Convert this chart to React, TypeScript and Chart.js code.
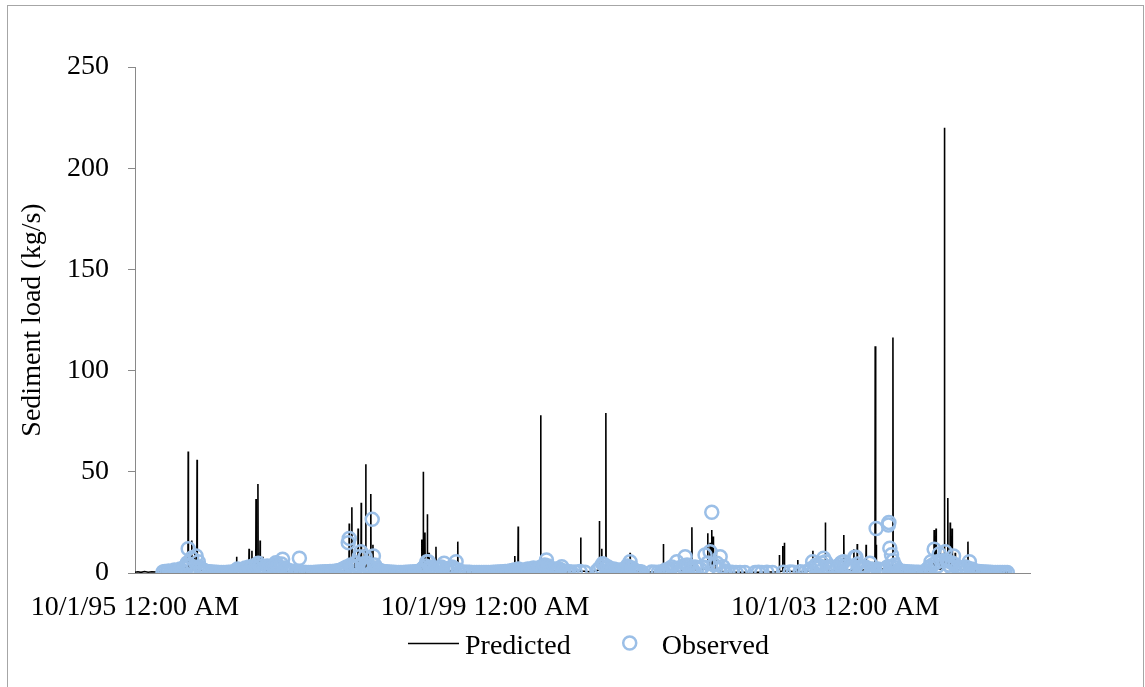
import React, { useEffect, useRef } from 'react';
import { Chart, registerables } from 'chart.js';

Chart.register(...registerables);

const FONT = "'Liberation Serif', 'Times New Roman', serif";

// x axis: days since 10/1/1995 12:00 AM
const xTickDays = [0, 1461, 2922];
const xTickLabels = ['10/1/95 12:00 AM', '10/1/99 12:00 AM', '10/1/03 12:00 AM'];
const xMinDay = 0;
const xMaxDay = 3735;
const yMin = 0;
const yMax = 250;
const yStep = 50;

const seriesNames = ['Predicted', 'Observed'];

// Predicted sediment load (kg/s): [day, load]
const predWY96: [number, number][] = [
  [0, 0.4], [12, 0.6], [25, 0.3], [40, 0.7], [55, 0.4], [70, 0.6], [90, 0.5], [110, 0.8], [130, 0.6],
  [150, 1.0], [170, 0.8], [190, 1.5], [205, 2.0], [215, 3.0], [221, 2.0], [222, 60], [223, 3.0],
  [230, 2.0], [236, 2.0], [237, 16], [238, 2.5], [244, 3.0], [245, 8.0], [246, 2.5], [249, 2.0],
  [250, 10], [251, 2.0], [258, 2.0], [259, 56], [260, 2.5], [270, 1.5], [290, 1.0], [320, 0.6], [350, 0.5],
];
const predWY97: [number, number][] = [
  [380, 0.4], [410, 0.5], [423, 1.0], [424, 8], [425, 1.0], [441, 1.5], [442, 5], [443, 1.0],
  [475, 1.5], [476, 12], [477, 1.5], [487, 1.5], [488, 11], [489, 1.5], [504, 2.0], [505, 36.5],
  [506, 3.0], [512, 2.0], [513, 44], [514, 3.0], [521, 2.0], [522, 16], [523, 2.0], [533, 1.5],
  [534, 8], [535, 1.5], [560, 1.2], [600, 1.0], [640, 0.8], [680, 0.5], [720, 0.4],
];
const predWY98: [number, number][] = [
  [760, 0.4], [800, 0.5], [840, 0.6], [870, 1.0], [893, 2.0], [894, 24.5], [895, 2.0], [904, 2.0],
  [905, 32.5], [906, 3.0], [917, 2.0], [918, 12], [919, 2.0], [930, 2.0], [931, 22], [932, 2.0],
  [943, 3.0], [944, 34.7], [945, 3.0], [956, 2.0], [957, 12], [958, 2.0], [962, 3.0], [963, 53.7],
  [964, 3.0], [972, 2.0], [973, 10], [974, 2.0], [983, 3.0], [984, 39], [985, 3.0], [992, 2.0],
  [993, 14], [994, 2.0], [1020, 1.0], [1060, 0.6],
];
const predWY99: [number, number][] = [
  [1100, 0.4], [1150, 0.5], [1190, 1.0], [1196, 2.0], [1197, 16.6], [1198, 2.0], [1202, 3.0],
  [1203, 50], [1204, 3.0], [1209, 2.0], [1210, 20], [1211, 2.0], [1219, 3.0], [1220, 29], [1221, 3.0],
  [1226, 2.0], [1227, 10], [1228, 2.0], [1255, 1.5], [1256, 13], [1257, 1.5], [1300, 1.0], [1346, 1.0],
  [1347, 15.5], [1348, 1.0], [1380, 0.6], [1420, 0.5], [1455, 0.4],
];
const predWY00: [number, number][] = [
  [1500, 0.5], [1550, 0.6], [1584, 1.0], [1585, 8.4], [1586, 1.0], [1598, 1.5], [1599, 23], [1600, 1.5],
  [1640, 1.0], [1692, 1.5], [1693, 78], [1694, 2.0], [1740, 1.0], [1800, 0.6], [1859, 1.0], [1860, 17.6],
  [1861, 1.0],
];
const predWY01: [number, number][] = [
  [1900, 0.6], [1937, 1.5], [1938, 25.7], [1939, 2.0], [1947, 2.0], [1948, 12], [1949, 2.0], [1964, 2.0],
  [1965, 79], [1966, 2.0], [2010, 1.0], [2065, 1.0], [2066, 10], [2067, 1.0], [2120, 0.6], [2170, 0.5],
];
const predWY02: [number, number][] = [
  [2204, 0.8], [2205, 14.3], [2206, 0.8], [2260, 1.0], [2323, 1.5], [2324, 22.6], [2325, 1.5],
  [2389, 2.0], [2390, 19.6], [2391, 2.0], [2399, 2.0], [2400, 15], [2401, 2.0], [2406, 2.0],
  [2407, 21.2], [2408, 2.0], [2412, 2.0], [2413, 18], [2414, 2.0], [2424, 1.5], [2425, 10],
  [2426, 1.0], [2480, 0.5], [2540, 0.4],
];
const predWY03: [number, number][] = [
  [2600, 0.4], [2688, 0.6], [2689, 8.9], [2690, 0.6], [2702, 1.0], [2703, 13.3], [2704, 1.0],
  [2709, 1.0], [2710, 15], [2711, 1.0], [2765, 0.6], [2766, 6.4], [2767, 0.6], [2828, 1.0],
  [2829, 11], [2830, 1.0], [2880, 1.5], [2881, 24.9], [2882, 1.5], [2910, 1.0],
];
const predWY04: [number, number][] = [
  [2957, 1.5], [2958, 18.8], [2959, 1.5], [2999, 1.5], [3000, 11.7], [3001, 1.5], [3013, 1.5],
  [3014, 14.3], [3015, 1.5], [3050, 1.5], [3051, 14], [3052, 1.5], [3088, 2.0], [3089, 112],
  [3090, 2.0], [3092, 2.0], [3093, 14], [3094, 2.0], [3162, 2.0], [3163, 116.4], [3164, 2.0],
  [3200, 1.0], [3260, 0.5],
];
const predWY05: [number, number][] = [
  [3300, 0.6], [3334, 2.0], [3335, 21.2], [3336, 2.0], [3342, 2.0], [3343, 22], [3344, 2.0],
  [3359, 2.0], [3360, 12], [3361, 2.0], [3377, 3.0], [3378, 220], [3379, 3.0], [3391, 3.0],
  [3392, 37], [3393, 3.0], [3401, 2.0], [3402, 25], [3403, 2.0], [3409, 2.0], [3410, 22],
  [3411, 2.0], [3422, 1.5], [3423, 10], [3424, 1.5], [3475, 1.5], [3476, 15.5], [3477, 1.5],
  [3550, 0.6], [3652, 0.4],
];

// Observed sediment load (kg/s): [day, load]
const obsWY96: [number, number][] = [
  [117, 0.5], [125, 0.8], [133, 0.4], [141, 1.0], [149, 0.6], [157, 0.9], [165, 1.5], [173, 0.7],
  [181, 1.2], [189, 2.0], [197, 1.0], [205, 2.5], [212, 3.5], [218, 5.0], [222, 12], [228, 4.0],
  [237, 7.4], [245, 3.0], [255, 8.4], [264, 5.6], [270, 3.0], [276, 2.0], [284, 1.5], [292, 1.0],
  [300, 0.8], [310, 0.6], [320, 0.5], [330, 0.4], [340, 0.4], [350, 0.3], [360, 0.3],
];
const obsWY97: [number, number][] = [
  [370, 0.3], [380, 0.3], [390, 0.4], [400, 0.4], [410, 0.5], [420, 1.0], [428, 2.0], [436, 1.2],
  [444, 0.8], [452, 1.5], [460, 2.5], [468, 1.8], [476, 3.0], [484, 2.2], [492, 3.5], [500, 2.5],
  [507, 4.0], [514, 4.8], [521, 3.0], [528, 2.0], [536, 1.5], [544, 2.5], [552, 3.5], [560, 2.8],
  [568, 2.0], [576, 3.2], [583, 4.0], [588, 5.1], [596, 3.0], [604, 2.2], [611, 4.5], [616, 6.8],
  [624, 2.5], [632, 1.8], [640, 1.2], [650, 1.0], [660, 0.8], [670, 0.6], [680, 0.5], [686, 7.3],
  [694, 0.4], [704, 0.4], [714, 0.3], [724, 0.3],
];
const obsWY98: [number, number][] = [
  [734, 0.3], [744, 0.3], [754, 0.4], [764, 0.4], [774, 0.5], [784, 0.5], [794, 0.6], [804, 0.6],
  [814, 0.7], [824, 0.8], [834, 0.9], [844, 1.0], [852, 1.2], [860, 1.5], [868, 2.0], [876, 2.5],
  [884, 3.0], [890, 15], [894, 17.1], [900, 4.0], [907, 3.0], [914, 2.5], [921, 5.0], [928, 3.5],
  [936, 8], [942, 10.5], [948, 4.5], [954, 3.0], [960, 8], [966, 5.0], [972, 3.5], [978, 2.5],
  [984, 3.0], [990, 26.5], [995, 8.4], [1000, 4.0], [1006, 2.5], [1013, 1.8], [1020, 1.2],
  [1028, 1.0], [1036, 0.8], [1044, 0.6], [1052, 0.5], [1060, 0.5], [1070, 0.4], [1080, 0.4], [1090, 0.3],
];
const obsWY99: [number, number][] = [
  [1100, 0.3], [1110, 0.3], [1120, 0.3], [1130, 0.4], [1140, 0.4], [1150, 0.5], [1160, 0.5],
  [1170, 0.6], [1180, 0.8], [1188, 1.0], [1196, 1.5], [1204, 2.5], [1211, 3.5], [1218, 5.6],
  [1224, 5.6], [1231, 3.0], [1238, 2.0], [1246, 1.5], [1254, 2.5], [1262, 1.8], [1270, 2.2],
  [1278, 3.0], [1284, 2.5], [1290, 4.8], [1298, 2.0], [1306, 1.5], [1314, 2.2], [1322, 3.0],
  [1330, 2.5], [1340, 5.6], [1348, 1.5], [1372, 0.5], [1386, 0.4], [1396, 0.4], [1406, 0.3],
  [1416, 0.3], [1426, 0.3], [1436, 0.3], [1446, 0.3], [1456, 0.3],
];
const obsWY00: [number, number][] = [
  [1465, 0.3], [1475, 0.3], [1485, 0.3], [1495, 0.4], [1505, 0.4], [1515, 0.5], [1525, 0.5],
  [1535, 0.6], [1545, 0.7], [1555, 0.8], [1565, 1.0], [1575, 1.2], [1583, 1.5], [1591, 1.2],
  [1599, 2.0], [1607, 1.5], [1615, 1.0], [1623, 1.5], [1631, 1.2], [1639, 2.0], [1647, 1.8],
  [1655, 1.5], [1663, 2.5], [1671, 2.0], [1679, 1.5], [1687, 2.5], [1695, 3.0], [1703, 2.5],
  [1710, 4.0], [1717, 6.4], [1724, 3.5], [1731, 2.5], [1739, 2.0], [1747, 1.5], [1755, 2.0],
  [1763, 1.5], [1771, 2.0], [1781, 3.1], [1790, 1.0], [1800, 0.8], [1810, 0.6], [1820, 0.5],
];
const obsWY01: [number, number][] = [
  [1837, 0.5], [1857, 0.8], [1878, 0.4], [1928, 1.0], [1936, 2.0], [1944, 3.0], [1952, 4.6],
  [1959, 4.0], [1966, 2.5], [1974, 3.0], [1982, 2.0], [1990, 1.5], [1998, 2.0], [2006, 1.5],
  [2014, 1.2], [2022, 1.5], [2030, 1.0], [2038, 1.5], [2046, 2.0], [2054, 3.5], [2060, 3.0],
  [2066, 5.6], [2074, 2.5], [2082, 1.5], [2090, 1.0], [2098, 0.8], [2106, 0.6], [2114, 0.5],
  [2156, 0.5], [2170, 0.4], [2184, 0.4],
];
const obsWY02: [number, number][] = [
  [2196, 0.5], [2206, 0.8], [2214, 1.5], [2222, 1.0], [2230, 2.0], [2240, 3.0], [2250, 2.0],
  [2261, 5.6], [2270, 2.5], [2280, 2.0], [2288, 3.5], [2296, 8], [2304, 4.0], [2312, 3.5],
  [2320, 2.0], [2328, 1.5], [2337, 3.0], [2346, 2.5], [2358, 2.0], [2368, 3.0], [2379, 8.9],
  [2390, 5.0], [2400, 10.5], [2407, 30], [2416, 4.0], [2428, 4.8], [2436, 2.0], [2442, 8],
  [2454, 3.1], [2462, 1.0], [2474, 0.5], [2491, 0.4], [2508, 0.3], [2525, 0.3], [2545, 0.3],
];
const obsWY03: [number, number][] = [
  [2588, 0.3], [2602, 0.4], [2616, 0.3], [2637, 0.4], [2660, 0.3], [2706, 0.4], [2734, 0.5],
  [2747, 0.4], [2776, 0.6], [2797, 0.5], [2812, 1.0], [2820, 2.0], [2828, 5.6], [2835, 3.0],
  [2842, 4.0], [2850, 2.5], [2858, 3.5], [2866, 5.0], [2874, 7.3], [2882, 5.6], [2890, 3.0],
  [2898, 2.0], [2906, 3.0], [2914, 2.5],
];
const obsWY04: [number, number][] = [
  [2925, 2.0], [2932, 3.0], [2940, 4.0], [2948, 5.1], [2957, 5.6], [2965, 3.5], [2973, 2.5],
  [2981, 2.0], [2989, 3.0], [2996, 3.5], [3003, 7.8], [3009, 7.8], [3016, 4.5], [3024, 3.0],
  [3032, 2.0], [3040, 2.5], [3048, 3.0], [3056, 2.0], [3067, 4.8], [3075, 2.0], [3083, 1.5],
  [3093, 22], [3100, 2.0], [3108, 1.5], [3116, 1.2], [3124, 1.5], [3132, 2.0], [3140, 3.0],
  [3144, 23.7], [3146, 25], [3150, 12.2], [3157, 9.0], [3163, 6.0], [3170, 4.0], [3178, 2.5],
  [3186, 1.5], [3194, 1.0], [3202, 0.8], [3210, 0.7], [3220, 0.6], [3230, 0.5], [3240, 0.5],
  [3250, 0.4], [3260, 0.4], [3270, 0.4], [3280, 0.3],
];
const obsWY05: [number, number][] = [
  [3292, 0.5], [3300, 1.0], [3308, 2.0], [3316, 3.0], [3322, 5.6], [3328, 4.0], [3335, 11.7],
  [3342, 5.0], [3349, 3.5], [3356, 9.4], [3370, 6.0], [3381, 10.5], [3388, 6.0], [3396, 4.0],
  [3404, 3.0], [3410, 5.0], [3416, 8.4], [3424, 4.0], [3432, 3.0], [3440, 2.0], [3448, 2.5],
  [3456, 2.0], [3466, 3.0], [3474, 2.5], [3482, 5.6], [3490, 2.0], [3498, 1.5], [3506, 1.0],
  [3514, 0.8], [3522, 0.7], [3530, 0.6], [3540, 0.5], [3550, 0.5], [3560, 0.4], [3570, 0.4],
  [3580, 0.3], [3590, 0.3], [3600, 0.3], [3610, 0.3], [3620, 0.3], [3630, 0.3], [3640, 0.3],
];

const predictedYears = [predWY96, predWY97, predWY98, predWY99, predWY00, predWY01, predWY02, predWY03, predWY04, predWY05];
const observedYears = [obsWY96, obsWY97, obsWY98, obsWY99, obsWY00, obsWY01, obsWY02, obsWY03, obsWY04, obsWY05];

const toPoints = (years: [number, number][][]) =>
  years.flat().slice().sort((a, b) => a[0] - b[0]).map(([x, y]) => ({ x, y }));

const PRED_COLOR = '#000000';
const OBS_COLOR = '#9BBFE7';
const AXIS_COLOR = '#898989';
const OBS_RADIUS = 6.5;

const legendPlugin = {
  id: 'excelLegend',
  afterDraw(chart: any) {
    const { ctx, chartArea } = chart;
    const ds = chart.data.datasets;
    ctx.save();
    ctx.font = `28px ${FONT}`;
    const w1 = ctx.measureText(ds[0].label).width;
    const w2 = ctx.measureText(ds[1].label).width;
    const lineLen = 51;
    const gap1 = 6;
    const gap2 = 59;
    const gap3 = 32;
    const total = lineLen + gap1 + w1 + gap2 + gap3 + w2;
    const cx = (chartArea.left + chartArea.right) / 2 + 6;
    let x = cx - total / 2;
    const y = chartArea.bottom + 70;
    ctx.strokeStyle = ds[0].borderColor;
    ctx.lineWidth = 1.5;
    ctx.beginPath();
    ctx.moveTo(x, y + 0.5);
    ctx.lineTo(x + lineLen, y + 0.5);
    ctx.stroke();
    x += lineLen + gap1;
    ctx.fillStyle = '#000';
    ctx.textBaseline = 'alphabetic';
    ctx.textAlign = 'left';
    ctx.fillText(ds[0].label, x, y + 11);
    x += w1 + gap2;
    ctx.beginPath();
    ctx.arc(x, y, OBS_RADIUS, 0, Math.PI * 2);
    ctx.strokeStyle = ds[1].pointBorderColor;
    ctx.lineWidth = 2.5;
    ctx.stroke();
    x += gap3;
    ctx.fillText(ds[1].label, x, y + 11);
    ctx.restore();
  },
};

export default function App() {
  const canvasRef = useRef<HTMLCanvasElement | null>(null);

  useEffect(() => {
    document.documentElement.style.overflow = 'hidden';
    document.body.style.overflow = 'hidden';
    const canvas = canvasRef.current;
    if (!canvas) return;
    const chart = new Chart(canvas, {
      type: 'line',
      data: {
        datasets: [
          {
            label: seriesNames[0],
            data: toPoints(predictedYears),
            borderColor: PRED_COLOR,
            borderWidth: 1.6,
            pointRadius: 0,
            tension: 0,
            fill: false,
            order: 1,
          },
          {
            label: seriesNames[1],
            data: toPoints(observedYears),
            showLine: false,
            pointStyle: 'circle',
            pointRadius: OBS_RADIUS,
            pointBorderWidth: 2.5,
            pointBorderColor: OBS_COLOR,
            pointBackgroundColor: 'rgba(0,0,0,0)',
            borderColor: OBS_COLOR,
            backgroundColor: 'rgba(0,0,0,0)',
            order: 0,
          },
        ],
      },
      options: {
        animation: false,
        responsive: false,
        maintainAspectRatio: false,
        layout: { padding: { top: 67, right: 115, left: 0, bottom: 0 } },
        font: { family: FONT, size: 28 },
        plugins: {
          legend: { display: false },
          tooltip: { enabled: false },
        },
        scales: {
          x: {
            type: 'linear',
            min: xMinDay,
            max: xMaxDay,
            grid: { display: false, drawTicks: false },
            border: { display: true, color: AXIS_COLOR, width: 1 },
            afterBuildTicks: (scale: any) => {
              scale.ticks = xTickDays.map((v) => ({ value: v }));
            },
            afterFit: (scale: any) => {
              scale.height = 114;
            },
            ticks: {
              autoSkip: false,
              maxRotation: 0,
              minRotation: 0,
              padding: 18,
              color: '#000',
              font: { family: FONT, size: 28 },
              callback: (value: any) => {
                const i = xTickDays.indexOf(Number(value));
                return i >= 0 ? xTickLabels[i] : '';
              },
            },
          },
          y: {
            type: 'linear',
            min: yMin,
            max: yMax,
            grid: { display: true, drawOnChartArea: false, drawTicks: true, tickLength: 7, color: AXIS_COLOR, lineWidth: 1 },
            border: { display: true, color: AXIS_COLOR, width: 1 },
            afterFit: (scale: any) => {
              scale.width = 135;
            },
            ticks: {
              stepSize: yStep,
              padding: 19,
              color: '#000',
              font: { family: FONT, size: 28 },
            },
            title: {
              display: true,
              text: 'Sediment load (kg/s)',
              color: '#000',
              font: { family: FONT, size: 28 },
              padding: { top: 16, bottom: 0 },
            },
          },
        },
      },
      plugins: [legendPlugin],
    });
    return () => chart.destroy();
  }, []);

  return (
    <div style={{ position: 'fixed', left: 0, top: 0, width: 1145, height: 687, overflow: 'hidden', background: '#fff' }}>
      <div
        style={{
          position: 'absolute',
          left: 7,
          top: 5,
          width: 1137,
          height: 700,
          border: '1px solid #a6a6a6',
          boxSizing: 'border-box',
        }}
      />
      <canvas
        ref={canvasRef}
        width={1145}
        height={687}
        style={{ position: 'absolute', left: 0, top: 0, width: 1145, height: 687 }}
      />
    </div>
  );
}
